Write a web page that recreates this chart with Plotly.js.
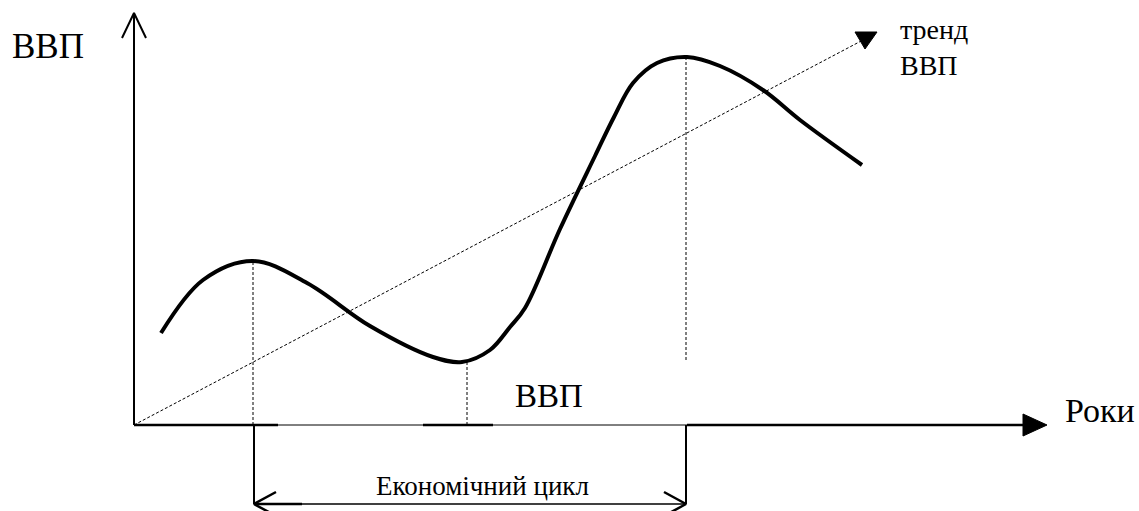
<!DOCTYPE html>
<html>
<head>
<meta charset="utf-8">
<script src="https://cdn.plot.ly/plotly-3.0.1.min.js"></script>
<style>
html,body{margin:0;padding:0;background:#fff;font-family:'Liberation Serif';}
#chart{width:1139px;height:511px;}
#chart text{font-family:'Liberation Serif' !important;fill:#000 !important;}
</style>
</head>
<body>
<div id="chart"></div>
<script>
// GDP cycle curve (time t, GDP g)
const years = [2.7, 6.9, 11.9, 17.3, 23.6, 29.9, 32.8, 35.6, 37.6, 39.1, 42.6, 46.1, 48.0, 49.9, 52.3, 55.3, 58.6, 62.9, 66.6, 72.8];
const gdp   = [9.2, 14.5, 16.4, 14.2, 9.9, 6.8, 6.3, 7.5, 9.8, 11.7, 19.6, 26.9, 30.8, 34.2, 36.2, 36.8, 35.9, 33.5, 30.5, 26.0];

// trend line
const trendT = [0, 72.9];
const trendG = [0, 38.5];
const trendHeadT = [72.1, 74.3, 73.1, 72.1];
const trendHeadG = [39.3, 39.3, 37.6, 39.3];

// turning points (peak, trough, peak) and where their guide lines end
const turnT   = [11.9, 33.3, 55.2];
const turnTop = [16.4, 6.3, 36.6];
const turnBot = [0, 0, 6.5];

// axes
const axisEndT = 88.9, axisTipT = 91.3;
const yAxisTopG = 41.2, yWingG = 38.7, yWingT = 1.2;
const xHeadHalf = 1.1;
// thick / thin segments of the time axis
const segT = [0, 14.4, 28.9, 35.9, 55.3, 88.9];
const segThick = [true, false, true, false, true];

// cycle bracket
const cycleStart = 12.0, cycleEnd = 55.2, cycleG = -7.9;
const cycleWingDT = 2.2, cycleWingDG = 1.2;

// labels
const labels = {
  gdpAxis: 'ВВП',
  gdpMid: 'ВВП',
  years: 'Роки',
  trend: 'тренд<br>ВВП',
  cycle: 'Економічний цикл'
};

const traces = [];
function line(x, y, w, dash) {
  traces.push({x: x, y: y, mode: 'lines', type: 'scatter', hoverinfo: 'skip',
    line: {color: '#000', width: w, dash: dash || 'solid'}});
}

// y axis
line([0, 0], [0, yAxisTopG], 2);
line([-yWingT, 0, yWingT], [yWingG, yAxisTopG, yWingG], 2);
// x axis segments
for (let i = 0; i < segThick.length; i++) {
  line([segT[i], segT[i + 1]], [0, 0], segThick[i] ? 2.5 : 1);
}
traces.push({x: [axisEndT, axisTipT, axisEndT, axisEndT], y: [xHeadHalf, 0, -xHeadHalf, xHeadHalf],
  mode: 'lines', fill: 'toself', fillcolor: '#000', line: {color: '#000', width: 1}, hoverinfo: 'skip'});

// trend
line(trendT, trendG, 1, '3px,2px');
traces.push({x: trendHeadT, y: trendHeadG, mode: 'lines', fill: 'toself', fillcolor: '#000',
  line: {color: '#000', width: 1}, hoverinfo: 'skip'});

// guide lines
for (let i = 0; i < turnT.length; i++) {
  line([turnT[i], turnT[i]], [turnBot[i], turnTop[i]], 1, '3px,2px');
}

// cycle bracket
line([cycleStart, cycleStart], [0, cycleG], 2);
line([cycleEnd, cycleEnd], [0, cycleG], 2);
line([cycleStart, cycleEnd], [cycleG, cycleG], 1.5);
line([cycleStart, cycleStart + 4.8], [cycleG, cycleG], 2.5);
line([cycleStart + cycleWingDT, cycleStart, cycleStart + cycleWingDT], [cycleG + cycleWingDG, cycleG, cycleG - cycleWingDG], 2.5);
line([cycleEnd - cycleWingDT, cycleEnd, cycleEnd - cycleWingDT], [cycleG + cycleWingDG, cycleG, cycleG - cycleWingDG], 2.5);

// GDP curve
traces.push({x: years, y: gdp, mode: 'lines', type: 'scatter', hoverinfo: 'skip',
  line: {color: '#000', width: 4, shape: 'spline', smoothing: 1}});

function ann(x, y, xanchor, text, size) {
  return {x: x, y: y, xanchor: xanchor, yanchor: 'middle', align: 'left', text: text, showarrow: false,
    font: {family: 'Liberation Serif', size: size, color: '#000000'}};
}
const layout = {
  width: 1139, height: 511,
  margin: {l: 0, r: 0, t: 0, b: 0},
  paper_bgcolor: '#fff', plot_bgcolor: '#fff',
  showlegend: false,
  xaxis: {range: [-13.4, 100.5], visible: false, fixedrange: true},
  yaxis: {range: [-8.6, 42.5], visible: false, fixedrange: true},
  annotations: [
    ann(-12.4, 37.9, 'left', labels.gdpAxis, 35),
    ann(41.5, 2.9, 'center', labels.gdpMid, 33),
    ann(92.9, 1.5, 'left', labels.years, 34),
    ann(76.4, 37.8, 'left', labels.trend, 28),
    ann(34.8, -6.1, 'center', labels.cycle, 27)
  ]
};
function draw() {
  Plotly.newPlot('chart', traces, layout, {staticPlot: true, displayModeBar: false});
}
if (document.fonts && document.fonts.load) {
  document.fonts.load('30px "Liberation Serif"', 'ВВПРоки').then(draw, draw);
} else {
  draw();
}
</script>
</body>
</html>
